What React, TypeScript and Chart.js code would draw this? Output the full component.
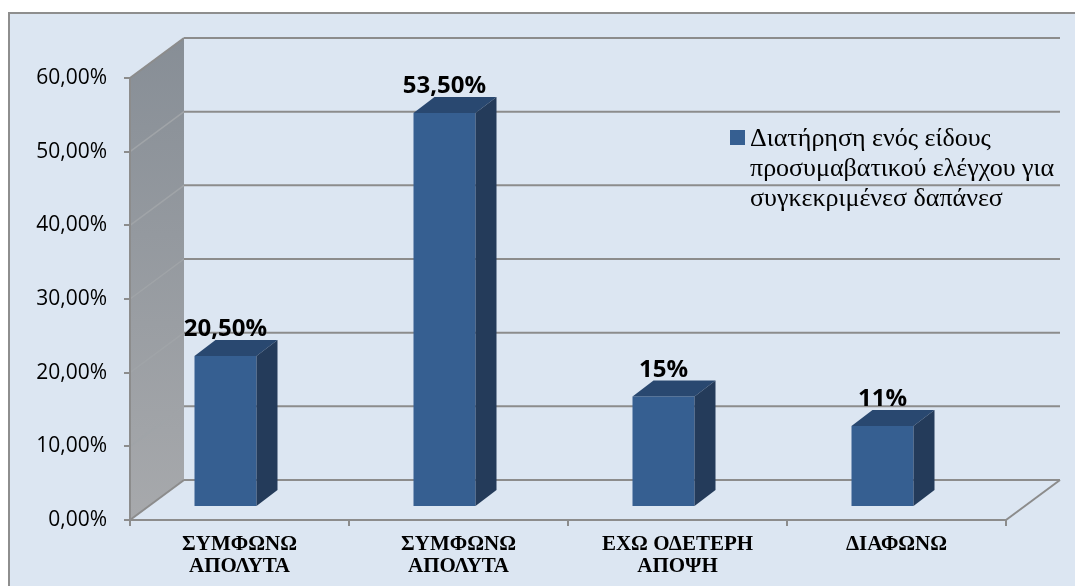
import React, { useEffect, useRef } from "react";
import { Chart, registerables } from "chart.js";

Chart.register(...registerables);

// Answer categories (two-line labels under the floor)
const categories: string[][] = [
  ["ΣΥΜΦΩΝΩ", "ΑΠΟΛΥΤΑ"],
  ["ΣΥΜΦΩΝΩ", "ΑΠΟΛΥΤΑ"],
  ["ΕΧΩ ΟΔΕΤΕΡΗ", "ΑΠΟΨΗ"],
  ["ΔΙΑΦΩΝΩ"],
];

// Share of answers per category
const shares: number[] = [0.205, 0.535, 0.15, 0.11];

// Value labels printed above each column
const shareLabels: string[] = ["20,50%", "53,50%", "15%", "11%"];

// Series name, as wrapped in the legend
const seriesLines: string[] = [
  "Διατήρηση ενός είδους",
  "προσυμαβατικού ελέγχου για",
  "συγκεκριμένεσ δαπάνεσ",
];

// Value axis range
const axisMin = 0;
const axisMax = 0.6;
const axisStep = 0.1;

// 3D look: wall depth, column depth and column placement in the box
const WALL_DX = 54;
const WALL_DY = -40;
const COL_DX = 21;
const COL_DY = -16;
const COL_SHIFT_X = -14;
const COL_SHIFT_Y = -13;

const BG = "#DCE6F2";
const GRID = "#8C8C8C";
const FRONT = "#365F91";
const TOP = "#294870";
const SIDE = "#243B5A";

const SERIF = "'Liberation Serif', 'Times New Roman', 'DejaVu Serif', serif";
const SANS = "'Open Sans', 'Liberation Sans', sans-serif";

const formatPct = (v: number) => (v * 100).toFixed(2).replace(".", ",") + "%";

const scenePlugin = {
  id: "scene3d",
  beforeDraw(chart: any) {
    const { ctx, width, height } = chart;
    const x = chart.scales.x;
    const y = chart.scales.y;
    const left = x.left;
    const right = x.right;
    ctx.save();
    // page + plot background with frame
    ctx.fillStyle = "#ffffff";
    ctx.fillRect(0, 0, width, height);
    ctx.fillStyle = BG;
    ctx.fillRect(9, 13, width, height);
    ctx.strokeStyle = "#8E8E8E";
    ctx.lineWidth = 2;
    ctx.beginPath();
    ctx.moveTo(9, height + 5);
    ctx.lineTo(9, 13);
    ctx.lineTo(width + 5, 13);
    ctx.stroke();

    const yTop = y.getPixelForValue(axisMax);
    const yBot = y.getPixelForValue(axisMin);

    // side wall
    const grad = ctx.createLinearGradient(0, yTop + WALL_DY, 0, yBot);
    grad.addColorStop(0, "#878E96");
    grad.addColorStop(1, "#A7A9AC");
    ctx.fillStyle = grad;
    ctx.beginPath();
    ctx.moveTo(left, yBot);
    ctx.lineTo(left, yTop);
    ctx.lineTo(left + WALL_DX, yTop + WALL_DY);
    ctx.lineTo(left + WALL_DX, yBot + WALL_DY);
    ctx.closePath();
    ctx.fill();

    // gridlines on back wall and their traces on the side wall
    const ticks = y.ticks.map((t: any) => t.value);
    ticks.forEach((v: number) => {
      const yf = y.getPixelForValue(v);
      const yb = yf + WALL_DY;
      const edge = v === axisMin || v === axisMax;
      ctx.strokeStyle = edge ? GRID : "#A0A4A8";
      ctx.lineWidth = edge ? 2 : 1.5;
      ctx.beginPath();
      ctx.moveTo(left, yf);
      ctx.lineTo(left + WALL_DX, yb);
      ctx.stroke();
      ctx.strokeStyle = GRID;
      ctx.lineWidth = 2;
      ctx.beginPath();
      ctx.moveTo(left + WALL_DX, yb);
      ctx.lineTo(right + WALL_DX, yb);
      ctx.stroke();
    });
    // floor right edge
    ctx.beginPath();
    ctx.moveTo(right, yBot);
    ctx.lineTo(right + WALL_DX, yBot + WALL_DY);
    ctx.stroke();
    ctx.restore();
  },
  afterDatasetsDraw(chart: any) {
    const { ctx } = chart;
    const meta = chart.getDatasetMeta(0);
    ctx.save();
    meta.data.forEach((el: any, i: number) => {
      const w = el.width;
      const x0 = el.x - w / 2 + COL_SHIFT_X;
      const x1 = x0 + w;
      const yT = el.y + COL_SHIFT_Y;
      const yB = el.base + COL_SHIFT_Y;
      // front face
      ctx.fillStyle = FRONT;
      ctx.fillRect(x0, yT, w, yB - yT);
      // top face
      ctx.fillStyle = TOP;
      ctx.beginPath();
      ctx.moveTo(x0, yT);
      ctx.lineTo(x1, yT);
      ctx.lineTo(x1 + COL_DX, yT + COL_DY);
      ctx.lineTo(x0 + COL_DX, yT + COL_DY);
      ctx.closePath();
      ctx.fill();
      // right face
      ctx.fillStyle = SIDE;
      ctx.beginPath();
      ctx.moveTo(x1, yT);
      ctx.lineTo(x1 + COL_DX, yT + COL_DY);
      ctx.lineTo(x1 + COL_DX, yB + COL_DY);
      ctx.lineTo(x1, yB);
      ctx.closePath();
      ctx.fill();
      // value label
      ctx.fillStyle = "#000000";
      ctx.font = `bold 24px ${SANS}`;
      ctx.textAlign = "center";
      ctx.textBaseline = "alphabetic";
      ctx.fillText(shareLabels[i], (x0 + x1) / 2, yT + COL_DY - 4);
    });

    // legend
    ctx.fillStyle = FRONT;
    ctx.fillRect(730, 130, 15, 15);
    ctx.fillStyle = "#000000";
    ctx.font = `26px ${SERIF}`;
    ctx.textAlign = "left";
    ctx.textBaseline = "alphabetic";
    seriesLines.forEach((line, k) => {
      ctx.fillText(line, 750, 146 + k * 30);
    });
    ctx.restore();
  },
};

export default function App() {
  const canvasRef = useRef<HTMLCanvasElement | null>(null);

  useEffect(() => {
    const canvas = canvasRef.current;
    if (!canvas) return;
    let chart: Chart | null = null;
    let cancelled = false;

    const build = () => {
      if (cancelled) return;
      chart = new Chart(canvas, {
        type: "bar",
        data: {
          labels: categories as any,
          datasets: [
            {
              label: seriesLines.join(" "),
              data: shares,
              backgroundColor: "rgba(0,0,0,0)",
              borderWidth: 0,
              barThickness: 62,
            },
          ],
        },
        options: {
          responsive: false,
          animation: false,
          devicePixelRatio: 1,
          layout: { padding: { left: 0, top: 78, right: 69, bottom: 0 } },
          plugins: {
            legend: { display: false },
            tooltip: { enabled: false },
          },
          scales: {
            x: {
              type: "category",
              offset: true,
              grid: {
                offset: true,
                drawOnChartArea: false,
                drawTicks: true,
                tickLength: 6,
                color: GRID,
                lineWidth: 2,
              },
              border: { display: true, color: GRID, width: 2 },
              ticks: {
                color: "#000000",
                autoSkip: false,
                maxRotation: 0,
                padding: 8,
                font: { family: SERIF, size: 21, weight: "bold", lineHeight: 1.05 },
              },
              afterFit: (s: any) => {
                s.height = 66;
              },
            },
            y: {
              min: axisMin,
              max: axisMax,
              grid: {
                drawOnChartArea: false,
                drawTicks: true,
                tickLength: 6,
                color: GRID,
                lineWidth: 2,
              },
              border: { display: true, color: GRID, width: 2 },
              ticks: {
                stepSize: axisStep,
                color: "#000000",
                padding: 17,
                font: { family: SANS, size: 21 },
                callback: (v: any) => formatPct(Number(v)),
              },
              afterFit: (s: any) => {
                s.width = 130;
              },
            },
          },
        } as any,
        plugins: [scenePlugin],
      });
    };

    const fonts = (document as any).fonts;
    if (fonts && fonts.load) {
      Promise.all([
        fonts.load(`26px "Liberation Serif"`, "Διατήρηση"),
        fonts.load(`bold 21px "Liberation Serif"`, "ΣΥΜΦΩΝΩ"),
        fonts.load(`21px "Open Sans"`, "60,00%"),
        fonts.load(`bold 24px "Open Sans"`, "53,50%"),
      ])
        .catch(() => undefined)
        .then(build);
    } else {
      build();
    }

    return () => {
      cancelled = true;
      if (chart) chart.destroy();
    };
  }, []);

  return (
    <div style={{ position: "absolute", left: 0, top: 0, width: 1075, height: 586 }}>
      <canvas ref={canvasRef} width={1075} height={586} style={{ display: "block" }} />
    </div>
  );
}
